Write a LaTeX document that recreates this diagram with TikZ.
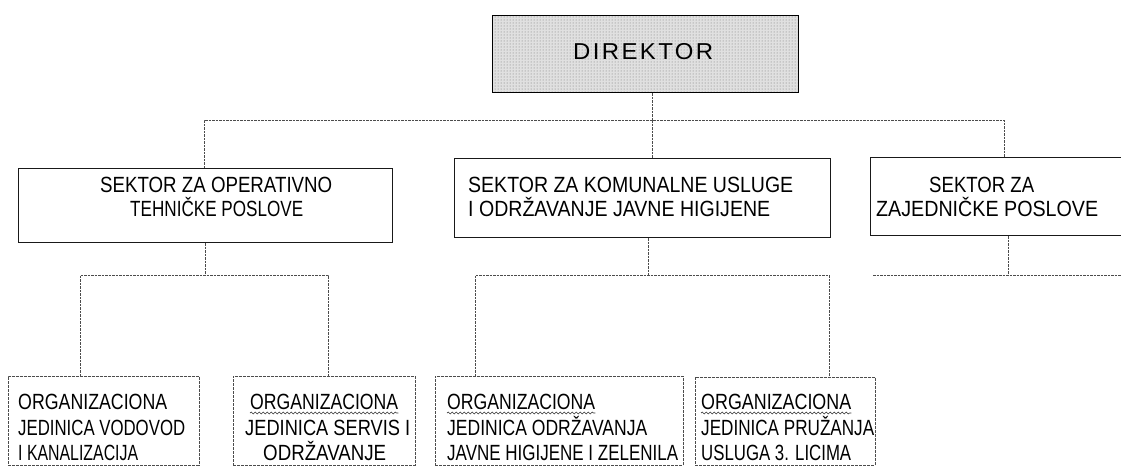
\documentclass[tikz,border=0pt]{standalone}
\usepackage{fontspec}
\setmainfont{Liberation Sans}
\newfontfamily\dirfont[LetterSpace=10]{Liberation Sans}
\usetikzlibrary{decorations.pathmorphing,patterns}
\newcommand\fitw[2]{\resizebox{#1pt}{\height}{#2}}
\begin{document}
\begin{tikzpicture}[x=1pt,y=-1pt,
  conn/.style={black!70, line width=0.7pt, dash pattern=on 2.5pt off 1pt},
  dirbox/.style={draw=black, line width=1.3pt, preaction={fill=black!12}, pattern=dots, pattern color=black!55, inner sep=0pt, anchor=north west},
  secbox/.style={draw=black!90, line width=1pt, inner sep=0pt, anchor=north west},
  unitbox/.style={draw=black!70, line width=0.7pt, dash pattern=on 3pt off 1pt, inner sep=0pt, anchor=north west},
  txt/.style={anchor=base west, inner sep=0pt, font=\fontsize{22}{22}\selectfont},
  wavy/.style={decorate, decoration={snake, amplitude=0.9pt, segment length=4pt}, line width=0.6pt, black!80}
]
\useasboundingbox (0,0) rectangle (1121,467);
\clip (0,0) rectangle (1121,467);

% boxes
\node[dirbox, minimum width=306pt, minimum height=77pt] (dir) at (492,15) {};
\node[secbox, minimum width=374pt, minimum height=74pt] (s1) at (18,168) {};
\node[secbox, minimum width=376pt, minimum height=79pt] (s2) at (454,158) {};
\node[secbox, minimum width=280pt, minimum height=78pt] (s3) at (870,157) {};
\node[unitbox, minimum width=191pt, minimum height=89pt] (b1) at (8,376) {};
\node[unitbox, minimum width=182pt, minimum height=89pt] (b2) at (233,376) {};
\node[unitbox, minimum width=248pt, minimum height=89pt] (b3) at (435,376) {};
\node[unitbox, minimum width=180pt, minimum height=88pt] (b4) at (695,377) {};

% texts
\node[txt, font=\fontsize{23}{23}\selectfont] (tdir) at (573,59) {\fitw{140}{\dirfont DIREKTOR}};
\node[txt] (s1a) at (100,192) {\fitw{232}{SEKTOR ZA OPERATIVNO}};
\node[txt] (s1b) at (130,216) {\fitw{173}{TEHNIČKE POSLOVE}};
\node[txt] (s2a) at (468,192) {\fitw{325}{SEKTOR ZA KOMUNALNE USLUGE}};
\node[txt] (s2b) at (468,216) {\fitw{302}{I ODRŽAVANJE JAVNE HIGIJENE}};
\node[txt] (s3a) at (929,192) {\fitw{105}{SEKTOR ZA}};
\node[txt] (s3b) at (876,216) {\fitw{222}{ZAJEDNIČKE POSLOVE}};

\node[txt] (b1a) at (18,409) {\fitw{149}{ORGANIZACIONA}};
\node[txt] (b1b) at (18,435) {\fitw{167}{JEDINICA VODOVOD}};
\node[txt] (b1c) at (18,460) {\fitw{120}{I KANALIZACIJA}};
\node[txt] (b2a) at (250,409) {\fitw{148}{ORGANIZACIONA}};
\node[txt] (b2b) at (245,435) {\fitw{165}{JEDINICA SERVIS I}};
\node[txt] (b2c) at (263,460) {\fitw{123}{ODRŽAVANJE}};
\node[txt] (b3a) at (447,409) {\fitw{148}{ORGANIZACIONA}};
\node[txt] (b3b) at (447,435) {\fitw{200}{JEDINICA ODRŽAVANJA}};
\node[txt] (b3c) at (447,460) {\fitw{231}{JAVNE HIGIJENE I ZELENILA}};
\node[txt] (b4a) at (701,409) {\fitw{150}{ORGANIZACIONA}};
\node[txt] (b4b) at (701,435) {\fitw{173}{JEDINICA PRUŽANJA}};
\node[txt] (b4c) at (701,460) {\fitw{150}{USLUGA 3. LICIMA}};

% wavy underlines
\draw[wavy] ([yshift=-4pt]b2a.base west) -- ([yshift=-4pt]b2a.base east);
\draw[wavy] ([yshift=-4pt]b3a.base west) -- ([yshift=-4pt]b3a.base east);
\draw[wavy] ([yshift=-4pt]b4a.base west) -- ([yshift=-4pt]b4a.base east);

% junction coordinates
\coordinate (h0) at (652,120);
\coordinate (j1) at (204,120);
\coordinate (j3) at (1004,120);
\coordinate (k1) at (205,275);
\coordinate (k1l) at (80,275);
\coordinate (k1r) at (328,275);
\coordinate (k2) at (648,275);
\coordinate (k2l) at (475,275);
\coordinate (k2r) at (829,275);
\coordinate (k3) at (1008,275);
\coordinate (k3l) at (873,275);
\coordinate (k3r) at (1121,275);

% connectors
\draw[conn] (dir.south -| h0) -- (h0);
\draw[conn] (s1.north -| j1) -- (j1) -- (j3) -- (s3.north -| j3);
\draw[conn] (h0) -- (s2.north -| h0);

\draw[conn] (s1.south -| k1) -- (k1);
\draw[conn] (b1.north -| k1l) -- (k1l) -- (k1r) -- (b2.north -| k1r);
\draw[conn] (s2.south -| k2) -- (k2);
\draw[conn] (b3.north -| k2l) -- (k2l) -- (k2r) -- (b4.north -| k2r);
\draw[conn] (s3.south -| k3) -- (k3);
\draw[conn] (k3l) -- (k3r);
\end{tikzpicture}
\end{document}
